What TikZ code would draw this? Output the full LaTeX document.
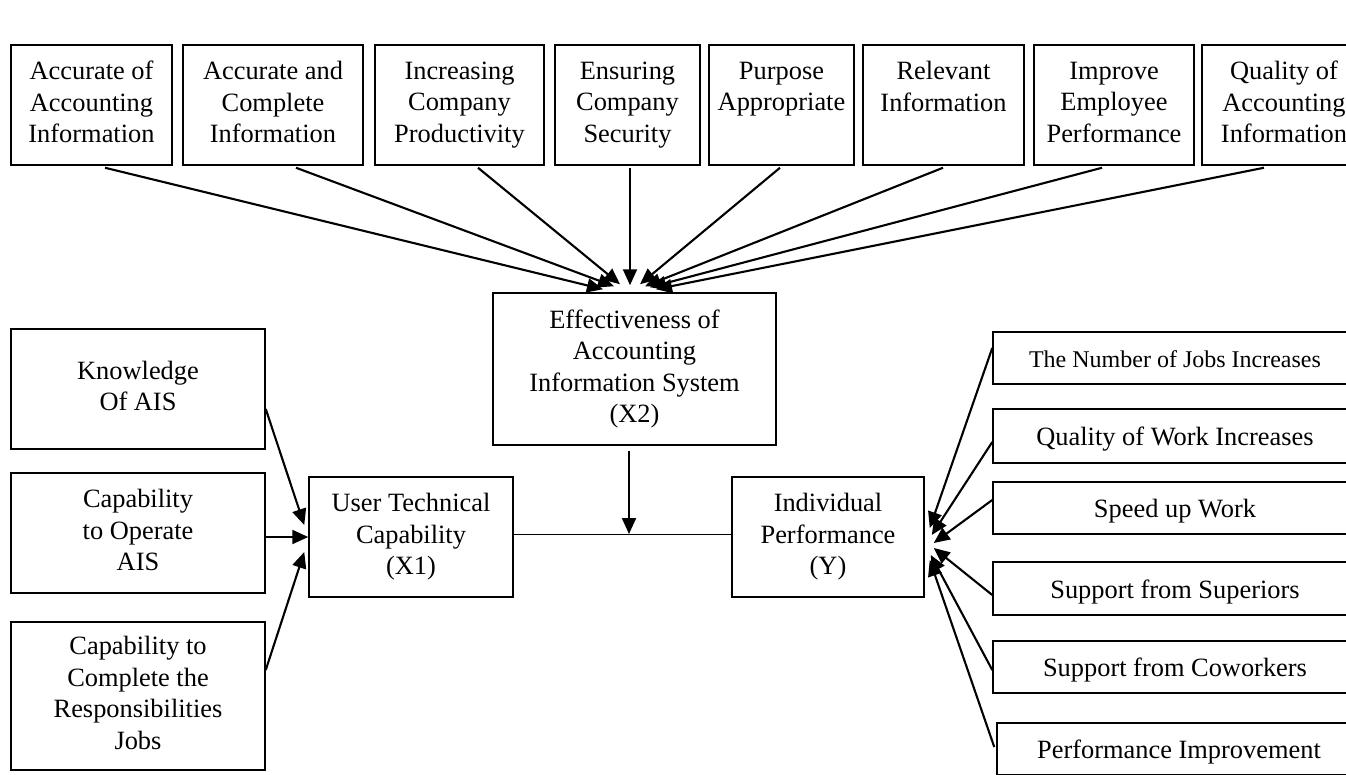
\documentclass[tikz,border=0pt]{standalone}
\usepackage{fontspec}
\setmainfont{Liberation Serif}
\usetikzlibrary{arrows.meta}
\newcommand{\boxstrut}{\rule[-6pt]{0pt}{31.5pt}}
\begin{document}
\begin{tikzpicture}[x=1pt,y=-1pt,
  box/.style={draw,line width=1.5pt,inner sep=0pt,align=center,font=\fontsize{26.4}{31.5}\selectfont,
    execute at begin node=\boxstrut, execute at end node=\boxstrut},
  smallbox/.style={box,font=\fontsize{24}{28}\selectfont},
  arr/.style={line width=2.1pt,-{Triangle[length=16pt,width=14pt]}},
  thinline/.style={line width=1pt}]
\clip (0,0) rectangle (1346,774);
% top boxes
\node[box,minimum width=161pt,minimum height=120pt] (t1) at (91.5,105) {Accurate of\\Accounting\\Information};
\node[box,minimum width=180pt,minimum height=120pt] (t2) at (273,105) {Accurate and\\Complete\\Information};
\node[box,minimum width=169pt,minimum height=120pt] (t3) at (459.5,105) {Increasing\\Company\\Productivity};
\node[box,minimum width=145pt,minimum height=120pt] (t4) at (627.5,105) {Ensuring\\Company\\Security};
\node[box,minimum width=145pt,minimum height=120pt] (t5) at (781.5,105) {Purpose\\Appropriate\\\phantom{X}};
\node[box,minimum width=161pt,minimum height=120pt] (t6) at (943.5,105) {Relevant\\Information\\\phantom{X}};
\node[box,minimum width=160pt,minimum height=120pt] (t7) at (1114,105) {Improve\\Employee\\Performance};
\node[box,minimum width=164pt,minimum height=120pt] (t8) at (1284,105) {Quality of\\Accounting\\Information};
% center box
\node[box,minimum width=283pt,minimum height=152pt] (x2) at (634.5,369) {Effectiveness of\\Accounting\\Information System\\(X2)};
% left boxes
\node[box,minimum width=254pt,minimum height=120pt] (l1) at (138,389) {Knowledge\\Of AIS};
\node[box,minimum width=254pt,minimum height=120pt] (l2) at (138,533) {Capability\\to Operate\\AIS};
\node[box,minimum width=254pt,minimum height=148pt] (l3) at (138,696) {Capability to\\Complete the\\Responsibilities\\Jobs};
% middle row
\node[box,minimum width=204pt,minimum height=120pt] (utc) at (411,537) {User Technical\\Capability\\(X1)};
\node[box,minimum width=192pt,minimum height=120pt] (ip) at (828,537) {Individual\\Performance\\(Y)};
% right boxes
\node[smallbox,minimum width=364pt,minimum height=52pt] (r1) at (1175,358) {The Number of Jobs Increases};
\node[box,minimum width=364pt,minimum height=54pt] (r2) at (1175,436) {Quality of Work Increases};
\node[box,minimum width=364pt,minimum height=52pt] (r3) at (1175,508) {Speed up Work};
\node[box,minimum width=364pt,minimum height=53pt] (r4) at (1175,588.5) {Support from Superiors};
\node[box,minimum width=364pt,minimum height=52pt] (r5) at (1175,667) {Support from Coworkers};
\node[box,minimum width=364pt,minimum height=52pt] (r6) at (1179,749) {Performance Improvement};
% top arrows
\draw[arr] ([xshift=13.5pt,yshift=-2pt]t1.south) -- ([xshift=-31.5pt,yshift=3pt]x2.north);
\draw[arr] ([xshift=23pt,yshift=-2pt]t2.south) -- ([xshift=-20.5pt,yshift=6pt]x2.north);
\draw[arr] ([xshift=18.5pt,yshift=-2pt]t3.south) -- ([xshift=-14.5pt,yshift=8pt]x2.north);
\draw[arr] ([xshift=2.5pt,yshift=-2pt]t4.south) -- ([xshift=-4.5pt,yshift=7pt]x2.north);
\draw[arr] ([xshift=-1.5pt,yshift=-2pt]t5.south) -- ([xshift=5.5pt,yshift=8pt]x2.north);
\draw[arr] ([xshift=-0.5pt,yshift=-2pt]t6.south) -- ([xshift=10.5pt,yshift=6pt]x2.north);
\draw[arr] ([xshift=-12pt,yshift=-2pt]t7.south) -- ([xshift=15.5pt,yshift=5pt]x2.north);
\draw[arr] ([xshift=-20pt,yshift=-2pt]t8.south) -- ([xshift=21.5pt,yshift=3pt]x2.north);
% middle
\draw[thinline] ([yshift=3pt]utc.east) -- ([yshift=3pt]ip.west);
\coordinate (mid) at (629,534);
\draw[arr] ([xshift=-5.5pt,yshift=-5pt]x2.south) -- (mid);
% left arrows
\draw[arr] ([yshift=-20pt]l1.east) -- ([xshift=-4pt,yshift=12pt]utc.west);
\draw[arr] ([yshift=-4pt]l2.east) -- (utc.west);
\draw[arr] ([yshift=26pt]l3.east) -- ([xshift=-4pt,yshift=-15pt]utc.west);
% right arrows
\draw[arr] ([yshift=10pt]r1.west) -- ([xshift=5pt,yshift=9pt]ip.east);
\draw[arr] ([yshift=-6pt]r2.west) -- ([xshift=7pt,yshift=2pt]ip.east);
\draw[arr] ([yshift=8pt]r3.west) -- ([xshift=9pt,yshift=-6pt]ip.east);
\draw[arr] ([yshift=-6.5pt]r4.west) -- ([xshift=9pt,yshift=-11pt]ip.east);
\draw[arr] ([yshift=-3pt]r5.west) -- ([xshift=6pt,yshift=-18pt]ip.east);
\draw[arr] ([xshift=-2pt,yshift=2pt]r6.west) -- ([xshift=5pt,yshift=-23pt]ip.east);
\end{tikzpicture}
\end{document}
